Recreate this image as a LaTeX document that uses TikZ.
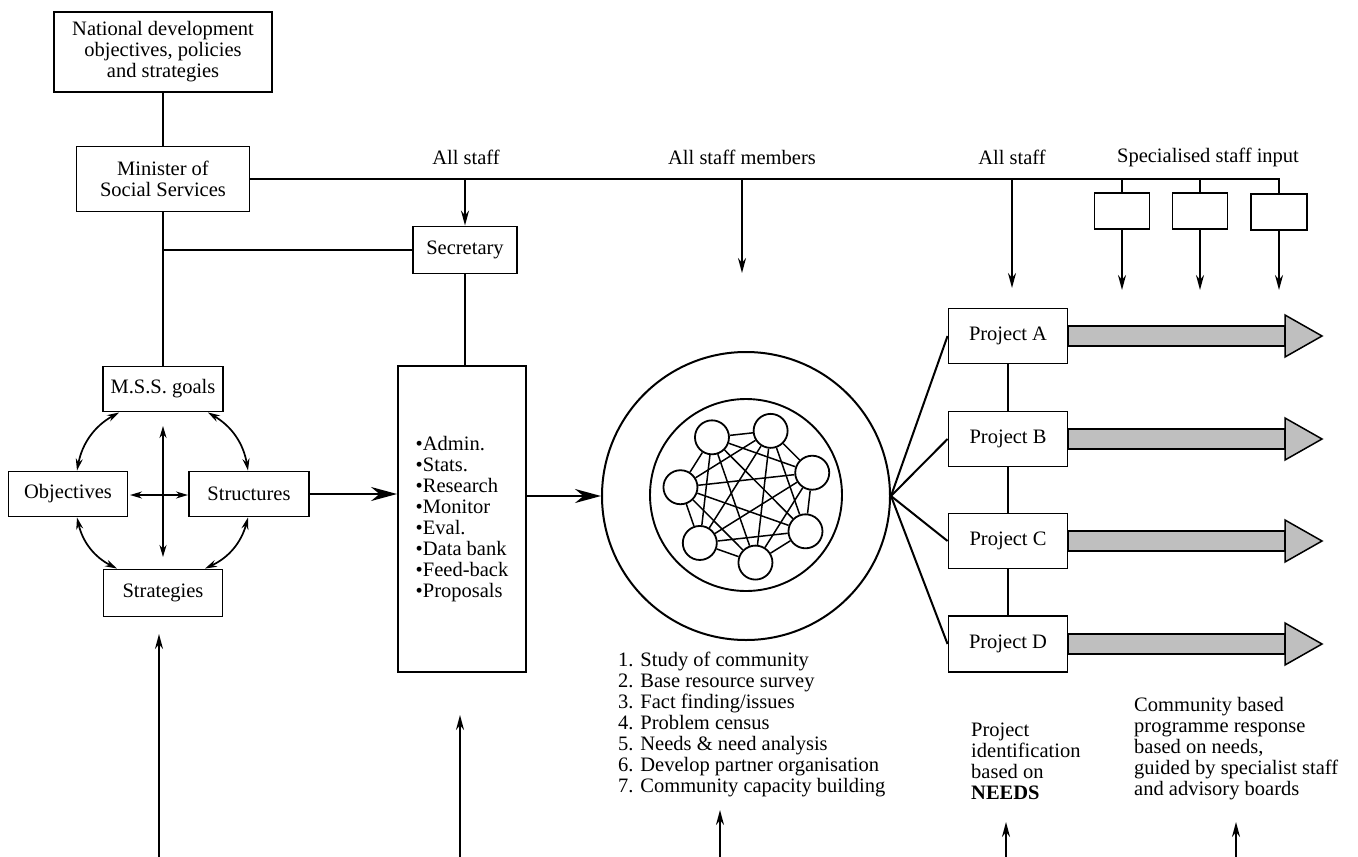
\documentclass[tikz,border=0pt]{standalone}
\usepackage{fontspec}
\setmainfont{Liberation Serif}
\usetikzlibrary{arrows.meta,calc}
\begin{document}
\begin{tikzpicture}[x=1pt,y=-1pt,
  every node/.style={font=\fontsize{20.5}{21}\selectfont, inner sep=0pt},
  box/.style={draw, line width=1.9pt, align=center},
  ln/.style={line width=2pt},
  arr/.style={line width=2pt, -{Stealth[length=15pt,width=8pt]}},
  bigarr/.style={line width=2.2pt, -{Stealth[length=26pt,width=14pt]}},
  darr/.style={line width=1.7pt, {Stealth[length=12pt,width=7pt]}-{Stealth[length=12pt,width=7pt]}},
  shadedarr/.style={line width=1.5pt, draw=black, fill=gray!50},
]
\useasboundingbox (0,0) rectangle (1358,857);

% left column
\node[box, minimum width=218pt, minimum height=80pt] (nat) at (163,52) {National development\\objectives, policies\\and strategies};
\node[box, minimum width=173pt, minimum height=65pt] (min) at (163,179) {Minister of\\Social Services};
\node[box, minimum width=104pt, minimum height=47pt] (sec) at (465,250) {Secretary};
\node[box, minimum width=120pt, minimum height=45pt] (mss) at (163,389) {M.S.S. goals};
\node[box, minimum width=119pt, minimum height=45pt] (obj) at (68,494) {Objectives};
\node[box, minimum width=120pt, minimum height=45pt] (stc) at (249,494) {Structures};
\node[box, minimum width=119pt, minimum height=47pt] (stg) at (163,593) {Strategies};
\node[box, minimum width=128pt, minimum height=306pt, align=left] (big) at (462,519)
  {\textbullet Admin.\\\textbullet Stats.\\\textbullet Research\\\textbullet Monitor\\\textbullet Eval.\\\textbullet Data bank\\\textbullet Feed-back\\\textbullet Proposals};

% staff labels
\node (l1) at (466,157) {All staff};
\node (l2) at (742,157) {All staff members};
\node (l3) at (1012,157) {All staff};
\node (l4) at (1208,157) {Specialised staff input};

% specialised small boxes
\node[box, minimum width=55pt, minimum height=36pt] (s1) at (1122,211) {};
\node[box, minimum width=55pt, minimum height=36pt] (s2) at (1200,211) {};
\node[box, minimum width=56pt, minimum height=36pt] (s3) at (1279,212) {};

% projects
\node[box, minimum width=119pt, minimum height=55pt] (pA) at (1008,336) {Project A};
\node[box, minimum width=119pt, minimum height=55pt] (pB) at (1008,439) {Project B};
\node[box, minimum width=119pt, minimum height=55pt] (pC) at (1008,541) {Project C};
\node[box, minimum width=119pt, minimum height=56pt] (pD) at (1008,644) {Project D};

% community circles
\node[draw, circle, line width=2pt, minimum size=288pt] (outer) at (746,496) {};
\node[draw, circle, line width=1.9pt, minimum size=192pt] (inner) at (746,495) {};
\foreach \i in {0,...,6}
  \node[draw, circle, line width=1.8pt, minimum size=34pt] (c\i) at ({748+68*cos(122-51.4286*\i)},{495-68*sin(122-51.4286*\i)}) {};
\foreach \i in {0,...,5}{
  \pgfmathtruncatemacro\nxt{\i+1}
  \foreach \j in {\nxt,...,6}
    \draw[line width=1.5pt] (c\i) -- (c\j);
}

% bottom texts
\node[align=left, anchor=west] (list) at (618,724) {1. Study of community\\2. Base resource survey\\3. Fact finding/issues\\4. Problem census\\5. Needs \& need analysis\\6. Develop partner organisation\\7. Community capacity building};
\node[align=left, anchor=west] (pid) at (971,761) {Project\\identification\\based on\\\textbf{NEEDS}};
\node[align=left, anchor=west] (cbr) at (1134,749) {Community based\\programme response\\based on needs,\\guided by specialist staff\\and advisory boards};

% coordinates for free ends
\coordinate (t2) at (742,273);
\coordinate (t3) at (1012,288);
\coordinate (u) at (0,290);
\coordinate (vt) at (163,426);
\coordinate (vb) at (163,557);
\coordinate (hl) at (130,495);
\coordinate (hr) at (188,495);
\coordinate (hb) at (1285,0);
\coordinate (ht) at (1322,0);
\coordinate (b1) at (159,857);  \coordinate (b1t) at (159,634);
\coordinate (b2) at (460,857);  \coordinate (b2t) at (460,715);
\coordinate (b3) at (720,857);  \coordinate (b3t) at (720,810);
\coordinate (b4) at (1006,857); \coordinate (b4t) at (1006,822);
\coordinate (b5) at (1236,857); \coordinate (b5t) at (1236,822);

% hierarchy lines
\draw[ln] (nat.south) -- (min.north);
\draw[ln] (min.south) -- (mss.north);
\draw[ln] (min.south |- sec.west) -- (sec.west);
\draw[ln] (min.east) -- (min.east -| s3.north) -- (s3.north);
\draw[arr] (min.east -| sec.north) -- (sec.north);
\draw[ln] (sec.south) -- (sec.south |- big.north);
\draw[arr] (min.east -| t2) -- (t2);
\draw[arr] (min.east -| t3) -- (t3);
\draw[ln] (min.east -| s1.north) -- (s1.north);
\draw[ln] (min.east -| s2.north) -- (s2.north);
\draw[arr] (s1.south) -- (s1.south |- u);
\draw[arr] (s2.south) -- (s2.south |- u);
\draw[arr] (s3.south) -- (s3.south |- u);

% goal cycle
\draw[darr] ([xshift=17pt]mss.south west) to[bend right=25] ([xshift=9pt]obj.north);
\draw[darr] ([xshift=9pt]obj.south) to[bend right=25] ([xshift=-46pt]stg.north);
\draw[darr] ([xshift=42pt]stg.north) to[bend right=25] ([xshift=-1pt]stc.south);
\draw[darr] ([xshift=-1pt]stc.north) to[bend right=25] ([xshift=-16pt]mss.south east);
\draw[darr] (vt) -- (vb);
\draw[darr] (hl) -- (hr);

% main flow
\draw[bigarr] (stc.east) -- (stc.east -| big.west);
\draw[bigarr] (outer.west -| big.east) -- (outer.west);
\foreach \p in {pA,pB,pC,pD}
  \draw[ln] (outer.east) -- (\p.west);
\draw[ln] (pA) -- (pB) -- (pC) -- (pD);

% shaded output arrows
\foreach \p in {pA,pB,pC,pD}{
  \draw[shadedarr] ($(\p.east)+(0,-10)$) rectangle ($(\p.east -| hb)+(0,10)$);
  \draw[shadedarr] ($(\p.east -| hb)+(0,-21)$) -- (\p.east -| ht) -- ($(\p.east -| hb)+(0,21)$) -- cycle;
}

% bottom arrows
\draw[arr] (b1) -- (b1t);
\draw[arr] (b2) -- (b2t);
\draw[arr] (b3) -- (b3t);
\draw[arr] (b4) -- (b4t);
\draw[arr] (b5) -- (b5t);
\end{tikzpicture}
\end{document}
